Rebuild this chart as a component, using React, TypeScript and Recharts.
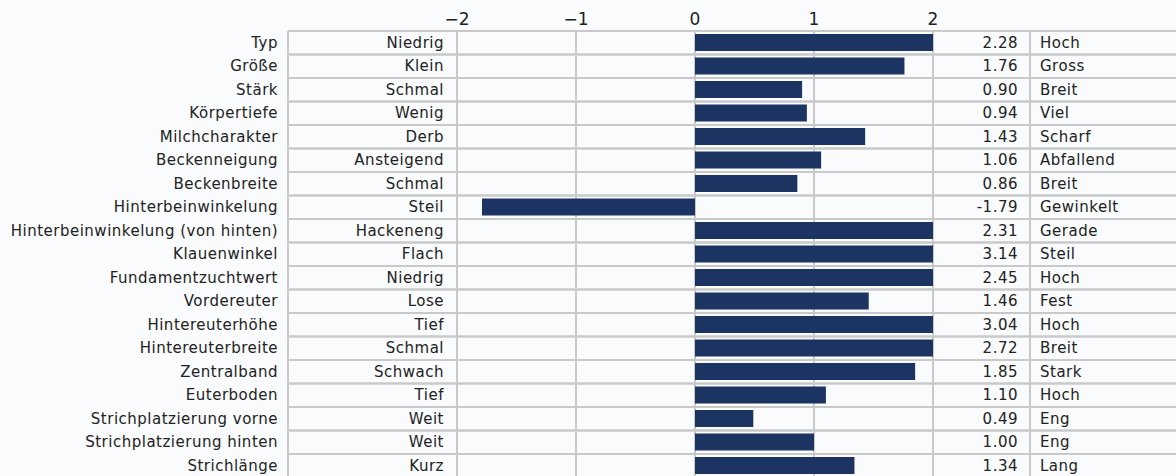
import { BarChart, Bar, XAxis, YAxis, CartesianGrid } from "recharts";

const traits = [
    "Typ",
    "Größe",
    "Stärk",
    "Körpertiefe",
    "Milchcharakter",
    "Beckenneigung",
    "Beckenbreite",
    "Hinterbeinwinkelung",
    "Hinterbeinwinkelung (von hinten)",
    "Klauenwinkel",
    "Fundamentzuchtwert",
    "Vordereuter",
    "Hintereuterhöhe",
    "Hintereuterbreite",
    "Zentralband",
    "Euterboden",
    "Strichplatzierung vorne",
    "Strichplatzierung hinten",
    "Strichlänge"
];

const lowLabels = [
    "Niedrig", "Klein", "Schmal", "Wenig", "Derb", "Ansteigend", "Schmal",
    "Steil", "Hackeneng", "Flach", "Niedrig", "Lose", "Tief", "Schmal",
    "Schwach", "Tief", "Weit", "Weit", "Kurz"
];

const values = [
    2.28, 1.76, 0.9, 0.94, 1.43, 1.06, 0.86, -1.79, 2.31, 3.14,
    2.45, 1.46, 3.04, 2.72, 1.85, 1.1, 0.49, 1.0, 1.34
];

const highLabels = [
    "Hoch", "Gross", "Breit", "Viel", "Scharf", "Abfallend", "Breit",
    "Gewinkelt", "Gerade", "Steil", "Hoch", "Fest", "Hoch", "Breit",
    "Stark", "Hoch", "Eng", "Eng", "Lang"
];

const xTicks = [-2, -1, 0, 1, 2];

// bars are cut off at the ends of the scale, the number column shows the real value
const data = traits.map((trait, i) => ({
    trait,
    low: lowLabels[i],
    high: highLabels[i],
    value: values[i],
    bar: Math.max(-2, Math.min(2, values[i]))
}));

const W = 1176;
const H = 490;
const TOP = 31;
const BOTTOM = 12.5;
const ROW_H = (H - TOP - BOTTOM) / traits.length;

const FONT = "DejaVu Sans";
const GRID = "#c9c9c9";
const TEXT = "#222";

const RowTick = (props: any) => {
    const { y, payload } = props;
    const row = data.find((d) => d.trait === payload.value);
    if (!row) return null;
    const top = y - ROW_H / 2;
    const bottom = y + ROW_H / 2;
    const textProps = { fontFamily: FONT, fontSize: 15, letterSpacing: 0.5, fill: TEXT, dy: 5 };

    return (
        <g>
            <line x1={288} x2={W} y1={top} y2={top} stroke={GRID} strokeWidth={2} />
            <line x1={288} x2={W} y1={bottom} y2={bottom} stroke={GRID} strokeWidth={2} />
            <line x1={288} x2={288} y1={top} y2={bottom} stroke={GRID} strokeWidth={2} />
            <line x1={1030} x2={1030} y1={top} y2={bottom} stroke={GRID} strokeWidth={2} />
            <text x={278} y={y} textAnchor="end" {...textProps}>{row.trait}</text>
            <text x={444} y={y} textAnchor="end" {...textProps}>{row.low}</text>
            <text x={1018} y={y} textAnchor="end" {...textProps}>{row.value.toFixed(2)}</text>
            <text x={1040} y={y} textAnchor="start" {...textProps}>{row.high}</text>
        </g>
    );
};

const App = () => {

    return (

        <div style={{ position: "absolute", left: 0, top: 0, width: W, height: 476, overflow: "hidden", background: "#f9fbfd" }}>

            <BarChart
                width={W}
                height={H}
                data={data}
                layout="vertical"
                margin={{ top: 0, right: W - 933, left: 0, bottom: BOTTOM }}
                barCategoryGap={0}
            >

                <CartesianGrid horizontal={false} stroke={GRID} strokeWidth={2} />

                <XAxis
                    type="number"
                    orientation="top"
                    domain={[-2, 2]}
                    ticks={xTicks}
                    allowDataOverflow
                    height={TOP}
                    axisLine={false}
                    tickLine={false}
                    tickSize={0}
                    tickMargin={6}
                    tickFormatter={(v: number) => String(v).replace("-", "\u2212")}
                    tick={{ fontFamily: FONT, fontSize: 17, fill: TEXT }}
                />

                <YAxis
                    type="category"
                    dataKey="trait"
                    width={457}
                    interval={0}
                    axisLine={false}
                    tickLine={false}
                    tick={<RowTick />}
                />

                <Bar
                    dataKey="bar"
                    fill="#1c3461"
                    barSize={17}
                    isAnimationActive={false}
                />

            </BarChart>

        </div>

    );

};

export default App;
